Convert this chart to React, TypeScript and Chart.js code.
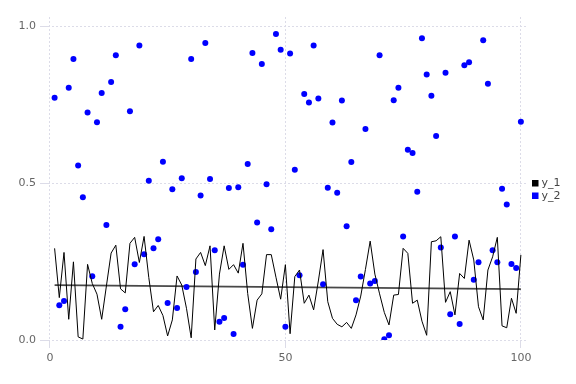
import React, { useEffect, useRef } from "react";
import { Chart, registerables } from "chart.js";

Chart.register(...registerables);

const xIndex = Array.from({ length: 100 }, (_, i) => i + 1);

const y1 = [
  0.292, 0.135, 0.279, 0.066, 0.249, 0.01, 0.003, 0.241, 0.18, 0.146,
  0.066, 0.172, 0.277, 0.302, 0.163, 0.15, 0.308, 0.327, 0.247, 0.33,
  0.199, 0.09, 0.11, 0.078, 0.013, 0.064, 0.204, 0.175, 0.101, 0.007,
  0.258, 0.279, 0.237, 0.3, 0.032, 0.21, 0.3, 0.225, 0.24, 0.213,
  0.308, 0.148, 0.037, 0.127, 0.147, 0.272, 0.272, 0.2, 0.13, 0.24,
  0.02, 0.202, 0.223, 0.117, 0.143, 0.096, 0.188, 0.288, 0.122, 0.069,
  0.05, 0.042, 0.056, 0.037, 0.08, 0.14, 0.225, 0.315, 0.21, 0.147,
  0.088, 0.048, 0.143, 0.145, 0.292, 0.276, 0.117, 0.127, 0.06, 0.015,
  0.313, 0.316, 0.329, 0.12, 0.154, 0.08, 0.212, 0.196, 0.318, 0.255,
  0.106, 0.064, 0.223, 0.265, 0.327, 0.045, 0.039, 0.133, 0.085, 0.271,
];

const y2 = [
  0.772, 0.111, 0.124, 0.804, 0.895, 0.556, 0.455, 0.725, 0.203, 0.694,
  0.787, 0.366, 0.822, 0.907, 0.042, 0.098, 0.729, 0.241, 0.938, 0.273,
  0.507, 0.292, 0.321, 0.568, 0.118, 0.48, 0.102, 0.515, 0.169, 0.895,
  0.217, 0.46, 0.946, 0.513, 0.286, 0.058, 0.07, 0.484, 0.019, 0.487,
  0.24, 0.561, 0.914, 0.374, 0.879, 0.496, 0.353, 0.975, 0.925, 0.042,
  0.913, 0.542, 0.206, 0.784, 0.757, 0.938, 0.769, 0.178, 0.485, 0.693,
  0.469, 0.763, 0.362, 0.567, 0.127, 0.202, 0.672, 0.18, 0.188, 0.907,
  0.002, 0.015, 0.764, 0.804, 0.33, 0.606, 0.596, 0.472, 0.961, 0.846,
  0.778, 0.65, 0.295, 0.851, 0.082, 0.33, 0.051, 0.875, 0.885, 0.192,
  0.248, 0.955, 0.816, 0.286, 0.248, 0.482, 0.432, 0.242, 0.229, 0.695,
];

const trendX = [1, 100];
const trendY = [0.175, 0.162];

const xTicks = [0, 50, 100];
const yTicks = [0, 0.5, 1];

const legendLabels = ["y_1", "y_2"];
const legendColors = ["#000000", "#0000ff"];

const legendPlugin = {
  id: "sideLegend",
  afterDraw(chart: any) {
    const ctx = chart.ctx;
    const area = chart.chartArea;
    const boxX = area.right + 5;
    const startY = 183;
    const step = 12.5;
    ctx.save();
    ctx.font = "11px 'DejaVu Sans'";
    ctx.textBaseline = "middle";
    ctx.textAlign = "left";
    legendLabels.forEach((label, i) => {
      const cy = startY + i * step;
      ctx.fillStyle = legendColors[i];
      ctx.fillRect(boxX, cy - 3, 6.5, 6.5);
      ctx.fillStyle = "#444444";
      ctx.fillText(label, boxX + 9.5, cy + 0.5);
    });
    ctx.restore();
  },
};

export default function App() {
  const ref = useRef<HTMLCanvasElement>(null);

  useEffect(() => {
    if (!ref.current) return;
    const gridColor = "#dcdce8";
    const chart = new Chart(ref.current, {
      type: "scatter",
      data: {
        datasets: [
          {
            type: "line",
            label: "y_1",
            data: xIndex.map((x, i) => ({ x, y: y1[i] })),
            borderColor: "#000000",
            backgroundColor: "#000000",
            borderWidth: 1,
            pointRadius: 0,
            tension: 0,
          },
          {
            type: "scatter",
            label: "y_2",
            data: xIndex.map((x, i) => ({ x, y: y2[i] })),
            borderColor: "#0000ff",
            backgroundColor: "#0000ff",
            pointRadius: 3,
            borderWidth: 0,
          },
          {
            type: "line",
            label: "trend",
            data: trendX.map((x, i) => ({ x, y: trendY[i] })),
            borderColor: "rgba(40,40,40,0.85)",
            backgroundColor: "rgba(40,40,40,0.85)",
            borderWidth: 1.8,
            pointRadius: 0,
          },
        ],
      },
      plugins: [legendPlugin],
      options: {
        animation: false,
        responsive: false,
        layout: { padding: { top: 17, bottom: 14, left: 0, right: 49 } },
        plugins: {
          tooltip: { enabled: false },
          legend: { display: false },
        },
        scales: {
          x: {
            type: "linear",
            min: -0.4,
            max: 101.3,
            afterBuildTicks: (axis: any) => {
              axis.ticks = xTicks.map((v) => ({ value: v }));
            },
            afterFit: (axis: any) => {
              axis.height = 30;
            },
            grid: { color: gridColor, tickLength: 8 },
            border: { display: false, dash: [2, 2] },
            ticks: {
              color: "#666666",
              font: { family: "DejaVu Sans", size: 11 },
              maxRotation: 0,
              padding: 4,
            },
          },
          y: {
            type: "linear",
            min: 0,
            max: 1.029,
            afterBuildTicks: (axis: any) => {
              axis.ticks = yTicks.map((v) => ({ value: v }));
            },
            afterFit: (axis: any) => {
              axis.width = 48;
            },
            grid: { color: gridColor, tickLength: 8 },
            border: { display: false, dash: [2, 2] },
            ticks: {
              color: "#666666",
              font: { family: "DejaVu Sans", size: 11 },
              padding: 4,
              callback: (v: any) => Number(v).toFixed(1),
            },
          },
        },
      },
    });
    return () => chart.destroy();
  }, []);

  return (
    <div style={{ position: "absolute", left: 0, top: 0, width: 576, height: 384 }}>
      <canvas ref={ref} width={576} height={384} />
    </div>
  );
}
